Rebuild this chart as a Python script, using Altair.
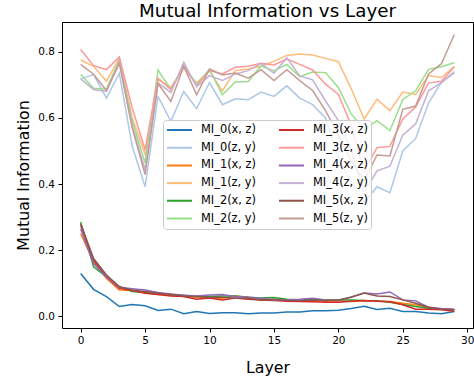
import altair as alt
import pandas as pd

layers = list(range(30))

mi0_xz = [0.13, 0.082, 0.06, 0.03, 0.036, 0.032, 0.018, 0.022, 0.008, 0.015, 0.009, 0.011, 0.011, 0.008, 0.01, 0.01, 0.013, 0.013, 0.017, 0.017, 0.019, 0.024, 0.031, 0.021, 0.025, 0.015, 0.015, 0.01, 0.008, 0.015]
mi0_zy = [0.718, 0.731, 0.66, 0.735, 0.515, 0.392, 0.665, 0.59, 0.68, 0.628, 0.707, 0.64, 0.658, 0.655, 0.678, 0.665, 0.697, 0.66, 0.64, 0.6, 0.48, 0.4, 0.345, 0.392, 0.374, 0.5, 0.538, 0.645, 0.708, 0.74]
mi1_xz = [0.25, 0.165, 0.115, 0.08, 0.078, 0.072, 0.066, 0.063, 0.06, 0.058, 0.056, 0.055, 0.062, 0.058, 0.05, 0.05, 0.048, 0.047, 0.048, 0.046, 0.047, 0.045, 0.047, 0.046, 0.045, 0.04, 0.035, 0.028, 0.022, 0.02]
mi1_zy = [0.775, 0.756, 0.711, 0.78, 0.6, 0.49, 0.716, 0.692, 0.752, 0.706, 0.742, 0.682, 0.743, 0.748, 0.757, 0.771, 0.789, 0.793, 0.79, 0.78, 0.77, 0.688, 0.597, 0.656, 0.622, 0.678, 0.671, 0.728, 0.722, 0.755]
mi2_xz = [0.285, 0.15, 0.12, 0.09, 0.075, 0.072, 0.07, 0.066, 0.064, 0.06, 0.06, 0.062, 0.062, 0.058, 0.056, 0.057, 0.052, 0.05, 0.052, 0.05, 0.05, 0.05, 0.048, 0.047, 0.043, 0.036, 0.03, 0.025, 0.022, 0.02]
mi2_zy = [0.731, 0.69, 0.687, 0.775, 0.59, 0.464, 0.745, 0.686, 0.757, 0.702, 0.747, 0.67, 0.709, 0.71, 0.757, 0.742, 0.762, 0.725, 0.739, 0.737, 0.692, 0.612, 0.565, 0.592, 0.562, 0.656, 0.682, 0.747, 0.755, 0.767]
mi3_xz = [0.275, 0.17, 0.12, 0.085, 0.078, 0.07, 0.066, 0.062, 0.06, 0.052, 0.056, 0.05, 0.056, 0.052, 0.05, 0.048, 0.046, 0.045, 0.044, 0.043, 0.043, 0.046, 0.048, 0.046, 0.044, 0.035, 0.022, 0.022, 0.02, 0.016]
mi3_zy = [0.807, 0.758, 0.746, 0.784, 0.63, 0.504, 0.72, 0.686, 0.758, 0.697, 0.743, 0.733, 0.753, 0.756, 0.765, 0.76, 0.778, 0.762, 0.745, 0.702, 0.672, 0.577, 0.44, 0.51, 0.514, 0.597, 0.633, 0.706, 0.711, 0.755]
mi4_xz = [0.265, 0.16, 0.12, 0.088, 0.084, 0.08, 0.072, 0.068, 0.064, 0.062, 0.065, 0.066, 0.06, 0.058, 0.055, 0.05, 0.05, 0.052, 0.055, 0.05, 0.048, 0.059, 0.071, 0.068, 0.074, 0.05, 0.047, 0.028, 0.024, 0.022]
mi4_zy = [0.718, 0.686, 0.68, 0.77, 0.575, 0.444, 0.706, 0.677, 0.768, 0.694, 0.728, 0.713, 0.733, 0.743, 0.765, 0.735, 0.782, 0.727, 0.715, 0.652, 0.592, 0.5, 0.375, 0.44, 0.454, 0.548, 0.582, 0.682, 0.707, 0.736]
mi5_xz = [0.28, 0.175, 0.125, 0.09, 0.08, 0.075, 0.07, 0.066, 0.062, 0.06, 0.058, 0.058, 0.055, 0.055, 0.05, 0.052, 0.048, 0.047, 0.05, 0.048, 0.05, 0.058, 0.071, 0.062, 0.06, 0.05, 0.04, 0.028, 0.022, 0.02]
mi5_zy = [0.762, 0.732, 0.683, 0.765, 0.57, 0.429, 0.704, 0.65, 0.756, 0.67, 0.748, 0.73, 0.736, 0.72, 0.746, 0.713, 0.746, 0.713, 0.683, 0.622, 0.55, 0.47, 0.41, 0.488, 0.485, 0.626, 0.636, 0.733, 0.764, 0.852]

names = ["MI_0(x, z)", "MI_0(z, y)", "MI_1(x, z)", "MI_1(z, y)", "MI_2(x, z)", "MI_2(z, y)",
         "MI_3(x, z)", "MI_3(z, y)", "MI_4(x, z)", "MI_4(z, y)", "MI_5(x, z)", "MI_5(z, y)"]
series = [mi0_xz, mi0_zy, mi1_xz, mi1_zy, mi2_xz, mi2_zy, mi3_xz, mi3_zy, mi4_xz, mi4_zy, mi5_xz, mi5_zy]
colors = ["#1f77b4", "#aec7e8", "#ff7f0e", "#ffbb78", "#2ca02c", "#98df8a",
          "#d62728", "#ff9896", "#9467bd", "#c5b0d5", "#8c564b", "#c49c94"]

rows = []
for order, (n, vals) in enumerate(zip(names, series)):
    for l, v in zip(layers, vals):
        rows.append({"Layer": l, "MI": v, "Series": n, "order": order})
df = pd.DataFrame(rows)

FONT = "DejaVu Sans"

chart = alt.Chart(df).mark_line(strokeWidth=1.5).encode(
    x=alt.X("Layer:Q", scale=alt.Scale(domain=[-1.45, 30.45], nice=False, zero=False),
            axis=alt.Axis(values=[0, 5, 10, 15, 20, 25, 30], format="d", title="Layer",
                          titleY=44, titleBaseline="alphabetic")),
    y=alt.Y("MI:Q", scale=alt.Scale(domain=[-0.035, 0.89], nice=False, zero=False),
            axis=alt.Axis(values=[0.0, 0.2, 0.4, 0.6, 0.8], format=".1f", title="Mutual Information",
                          titleX=-34, titleY=153, titleBaseline="alphabetic")),
    color=alt.Color("Series:N", scale=alt.Scale(domain=names, range=colors),
                    legend=alt.Legend(title=None, orient="none", legendX=101, legendY=98,
                                      columns=2, symbolType="stroke", symbolSize=625,
                                      symbolStrokeWidth=2, labelFontSize=11.4, labelFont=FONT,
                                      labelColor="black", fillColor="rgba(255,255,255,0.8)",
                                      strokeColor="#cccccc", padding=3, cornerRadius=3,
                                      columnPadding=22, rowPadding=3.7, clipHeight=14,
                                      labelOffset=8)),
    detail="order:O",
    order="order:Q",
).properties(
    width=411, height=306,
    title=alt.TitleParams("Mutual Information vs Layer", fontSize=18.3, font=FONT,
                          fontWeight="normal", color="black", anchor="middle",
                          baseline="alphabetic", offset=-13),
    padding={"left": 62, "top": 22, "right": 1, "bottom": 50},
    autosize=alt.AutoSizeParams(type="none"),
).configure_view(
    stroke="black", strokeWidth=1
).configure_axis(
    domain=False, grid=False, ticks=True, tickColor="black", tickSize=4, tickWidth=1,
    labelFont=FONT, labelFontSize=10.5, labelColor="black", labelPadding=3.5,
    titleFont=FONT, titleFontSize=15.8, titleFontWeight="normal", titleColor="black",
    labelFlush=False, labelOverlap=False
)

chart.save("out.html", embed_options={"renderer": "svg", "actions": False})
